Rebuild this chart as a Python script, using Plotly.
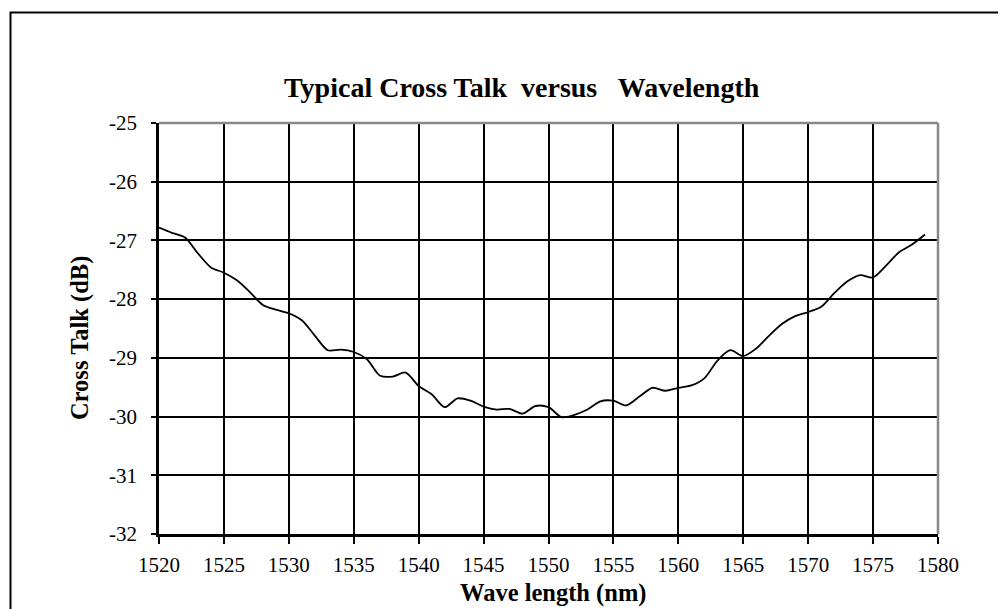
import plotly.graph_objects as go

wavelength = list(range(1520, 1580))
cross_talk = [
    -26.78, -26.87, -26.95, -27.22, -27.46, -27.55, -27.68, -27.88, -28.10, -28.18,
    -28.24, -28.36, -28.62, -28.87, -28.86, -28.90, -29.02, -29.30, -29.32, -29.25,
    -29.48, -29.62, -29.84, -29.69, -29.73, -29.83, -29.88, -29.87, -29.95, -29.82,
    -29.84, -30.01, -29.97, -29.88, -29.74, -29.73, -29.81, -29.66, -29.51, -29.56,
    -29.51, -29.47, -29.35, -29.05, -28.87, -28.97, -28.84, -28.62, -28.42, -28.29,
    -28.22, -28.13, -27.90, -27.70, -27.59, -27.63, -27.43, -27.20, -27.07, -26.90,
]

x_tick_vals = [1520, 1525, 1530, 1535, 1540, 1545, 1550, 1555, 1560, 1565, 1570, 1575, 1580]
x_tick_text = [str(v) for v in x_tick_vals]
y_tick_vals = [-32, -31, -30, -29, -28, -27, -26, -25]
y_tick_text = ["-32", "-31", "-30", "-29", "-28", "-27", "-26", "-25"]

title_text = "Typical Cross Talk  versus   Wavelength"
x_title = "Wave length (nm)"
y_title = "Cross Talk (dB)"

FONT = "Liberation Serif, Times New Roman, serif"

W, H = 1006, 609
L, R, T, B = 151, 930, 115, 526


def px(xp):
    return (xp - L) / (R - L)


def py(yp):
    return (B - yp) / (B - T)


fig = go.Figure()
fig.add_trace(go.Scatter(
    x=wavelength, y=cross_talk, mode="lines",
    line=dict(color="black", width=1.8, shape="spline", smoothing=0.8),
    showlegend=False, hoverinfo="x+y",
))

fig.update_layout(
    width=W, height=H,
    margin=dict(l=L, r=W - R, t=T, b=H - B, pad=0),
    paper_bgcolor="white", plot_bgcolor="white",
    font=dict(family=FONT, color="black", size=21),
    showlegend=False,
    xaxis=dict(
        range=[1520, 1580], tickmode="array",
        tickvals=x_tick_vals, ticktext=x_tick_text, showgrid=True,
        gridcolor="black", gridwidth=1.5, zeroline=False,
        showline=True, linecolor="black", linewidth=2.5,
        ticks="outside", ticklen=7, tickwidth=1.5, tickcolor="black",
        tickfont=dict(family=FONT, size=21, color="black"),
        ticklabelstandoff=3,
    ),
    yaxis=dict(
        range=[-32, -25], tickmode="array",
        tickvals=y_tick_vals, ticktext=y_tick_text, showgrid=True,
        gridcolor="black", gridwidth=1.5, zeroline=False,
        showline=True, linecolor="black", linewidth=2.5,
        ticks="outside", ticklen=5, tickwidth=1.5, tickcolor="black",
        tickfont=dict(family=FONT, size=21, color="black"),
        ticklabelstandoff=10,
    ),
    shapes=[
        dict(type="line", xref="paper", yref="paper", x0=0, x1=1, y0=1, y1=1,
             line=dict(color="#888888", width=2.5), layer="above"),
        dict(type="line", xref="paper", yref="paper", x0=1, x1=1, y0=0, y1=1,
             line=dict(color="#888888", width=2.5), layer="above"),
        dict(type="rect", xref="paper", yref="paper",
             x0=px(2.5), x1=px(1005), y0=py(4.5), y1=py(616),
             line=dict(color="black", width=2), fillcolor="rgba(0,0,0,0)",
             layer="above"),
    ],
    annotations=[
        dict(text="<b>" + title_text + "</b>", xref="paper", yref="paper",
             x=px(514), y=py(79), xanchor="center", yanchor="middle",
             showarrow=False, font=dict(family=FONT, size=28, color="black")),
        dict(text="<b>" + x_title + "</b>", xref="paper", yref="paper",
             x=px(545), y=py(585), xanchor="center", yanchor="middle",
             showarrow=False, font=dict(family=FONT, size=24.5, color="black")),
        dict(text="<b>" + y_title + "</b>", xref="paper", yref="paper",
             x=px(72), y=py(330), xanchor="center", yanchor="middle",
             textangle=-90,
             showarrow=False, font=dict(family=FONT, size=24.5, color="black")),
    ],
)

fig.write_html("out.html")
